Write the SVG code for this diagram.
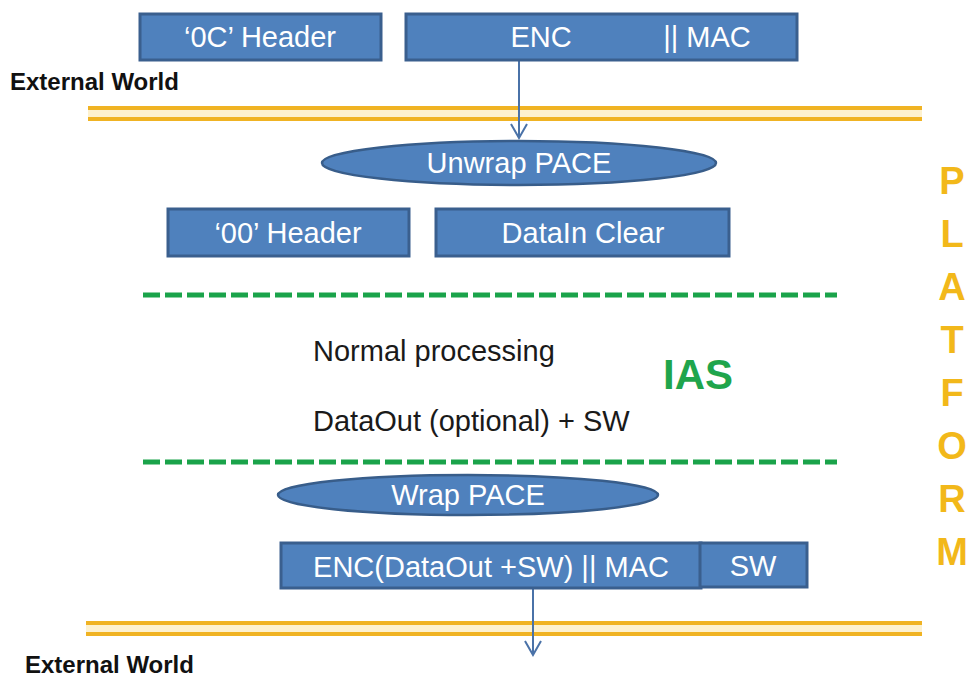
<svg xmlns="http://www.w3.org/2000/svg" width="972" height="677" viewBox="0 0 972 677">
<style>
.box{fill:#4F81BD;stroke:#3A5F8E;stroke-width:3}
.ell{fill:#4F81BD;stroke:#385D8A;stroke-width:2.5}
.bt{font-family:"Liberation Sans",Arial,sans-serif;font-size:29px;fill:#FFFFFF;text-anchor:middle}
.t{font-family:"Liberation Sans",Arial,sans-serif;font-size:29px;fill:#1A1A1A}
.ext{font-family:"Liberation Sans",Arial,sans-serif;font-size:24px;font-weight:bold;fill:#111111}
.gold{stroke:#F0B323;stroke-width:4}
.gap{fill:#FDF1CF}
.dash{stroke:#1AA34A;stroke-width:5;stroke-dasharray:17 5}
.plat{font-family:"Liberation Sans",Arial,sans-serif;font-size:38px;font-weight:bold;fill:#F2B81A;text-anchor:middle}
.conn{stroke:#4A72A8;stroke-width:2;fill:none}
</style>
<defs>
<marker id="arr" markerWidth="20" markerHeight="20" refX="16" refY="10" markerUnits="userSpaceOnUse" orient="auto" viewBox="0 0 20 20">
<path d="M2,2 L16,10 L2,18" fill="none" stroke="#4A72A8" stroke-width="2"/>
</marker>
</defs>
<rect width="972" height="677" fill="#FFFFFF"/>

<g id="boundary-top">
<rect class="gap" x="88" y="109" width="834" height="9"/>
<line class="gold" x1="88" y1="108" x2="922" y2="108"/>
<line class="gold" x1="88" y1="119" x2="922" y2="119"/>
</g>
<g id="boundary-bottom">
<rect class="gap" x="86" y="624" width="836" height="9"/>
<line class="gold" x1="86" y1="623" x2="922" y2="623"/>
<line class="gold" x1="86" y1="634" x2="922" y2="634"/>
</g>
<g id="ias-separators">
<line class="dash" x1="143" y1="295" x2="837" y2="295"/>
<line class="dash" x1="143" y1="462" x2="837" y2="462"/>
</g>

<text class="ext" x="10" y="90">External World</text>
<text class="ext" x="25" y="673">External World</text>

<g id="platform-label">
<text class="plat" x="952" y="194">P</text>
<text class="plat" x="952" y="247">L</text>
<text class="plat" x="952" y="300">A</text>
<text class="plat" x="952" y="353">T</text>
<text class="plat" x="952" y="406">F</text>
<text class="plat" x="952" y="459">O</text>
<text class="plat" x="952" y="512">R</text>
<text class="plat" x="952" y="565">M</text>
</g>

<g id="connectors">
<line class="conn" x1="519" y1="60" x2="519" y2="138" marker-end="url(#arr)"/>
<line class="conn" x1="533" y1="588" x2="533" y2="655" marker-end="url(#arr)"/>
</g>

<g id="header-0c">
<rect class="box" x="140" y="14" width="241" height="46"/>
<text class="bt" x="260" y="47">‘0C’ Header</text>
</g>
<g id="enc-mac">
<rect class="box" x="406" y="14" width="391" height="46"/>
<text class="bt" x="541" y="47">ENC</text>
<text class="bt" x="707" y="47">|| MAC</text>
</g>
<g id="unwrap-pace">
<ellipse class="ell" cx="519" cy="163" rx="197" ry="22"/>
<text class="bt" x="519" y="173">Unwrap PACE</text>
</g>
<g id="header-00">
<rect class="box" x="168" y="209" width="241" height="47"/>
<text class="bt" x="288" y="243">‘00’ Header</text>
</g>
<g id="datain-clear">
<rect class="box" x="436" y="209" width="293" height="47"/>
<text class="bt" x="583" y="243">DataIn Clear</text>
</g>
<g id="ias">
<text class="t" x="313" y="361">Normal processing</text>
<text style="font-family:'Liberation Sans',Arial,sans-serif;font-size:42px;font-weight:bold;fill:#1FA54C" x="663" y="389">IAS</text>
<text class="t" x="313" y="431">DataOut (optional) + SW</text>
</g>
<g id="wrap-pace">
<ellipse class="ell" cx="468" cy="495" rx="190" ry="20"/>
<text class="bt" x="468" y="505">Wrap PACE</text>
</g>
<g id="enc-out">
<rect class="box" x="281" y="543" width="420" height="45"/>
<text class="bt" x="491" y="577">ENC(DataOut +SW) || MAC</text>
</g>
<g id="sw">
<rect class="box" x="700" y="543" width="107" height="44"/>
<text class="bt" x="753" y="576">SW</text>
</g>
</svg>
